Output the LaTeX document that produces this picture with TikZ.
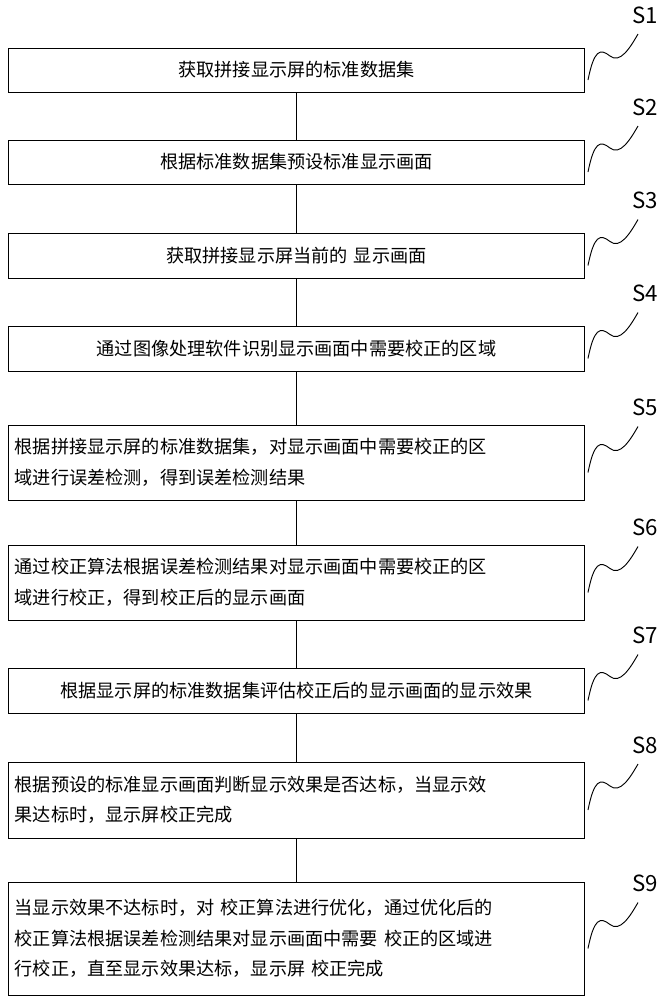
\documentclass[tikz,border=0pt]{standalone}
\usepackage{fontspec}
\setmainfont{Noto Sans CJK SC}
\usetikzlibrary{positioning}

\begin{document}
\begin{tikzpicture}[x=0.03cm,y=-0.03cm,
	stepbox/.style={draw, thick, minimum width=17.3cm, text width=16.9cm, inner sep=0pt, font=\fontsize{15.5}{26}\selectfont},
	steplabel/.style={font=\fontsize{19}{19}\selectfont\rmfamily},
	]
	\useasboundingbox (0,0) rectangle (669,1000);
	
	\foreach \n/\t/\b/\al/\txt in {
		1/48/92/center/{获取拼接显示屏的标准数据集},
		2/140/184/center/{根据标准数据集预设标准显示画面},
		3/233/278/center/{获取拼接显示屏当前的 显示画面},
		4/326/371/center/{通过图像处理软件识别显示画面中需要校正的区域},
		5/425/500/left/{根据拼接显示屏的标准数据集，对显示画面中需要校正的区\\域进行误差检测，得到误差检测结果},
		6/545/620/left/{通过校正算法根据误差检测结果对显示画面中需要校正的区\\域进行校正，得到校正后的显示画面},
		7/668/713/center/{根据显示屏的标准数据集评估校正后的显示画面的显示效果},
		8/762/838/left/{根据预设的标准显示画面判断显示效果是否达标，当显示效\\果达标时，显示屏校正完成},
		9/882/995/left/{当显示效果不达标时，对 校正算法进行优化，通过优化后的\\校正算法根据误差检测结果对显示画面中需要 校正的区域进\\行校正，直至显示效果达标，显示屏 校正完成}}
	{
		\node[stepbox, align=\al, minimum height={(\b-\t)*0.03cm}] (box\n) at (296.5,{(\t+\b)/2}) {\txt};
		\node[steplabel] (lab\n) at (645,{(\t+\b)/2-55}) {S\n};
		\draw[thick] (588,{(\t+\b)/2+10}) .. controls +(6,-30) and +(-10,-8) .. +(22,-24)
			.. controls +(10,8) and +(-8,14) .. +(50,-46);
	}
	
	\foreach \a/\b in {1/2,2/3,3/4,4/5,5/6,6/7,7/8,8/9}
		\draw (box\a.south) -- (box\b.north);
	
\end{tikzpicture}
\end{document}
